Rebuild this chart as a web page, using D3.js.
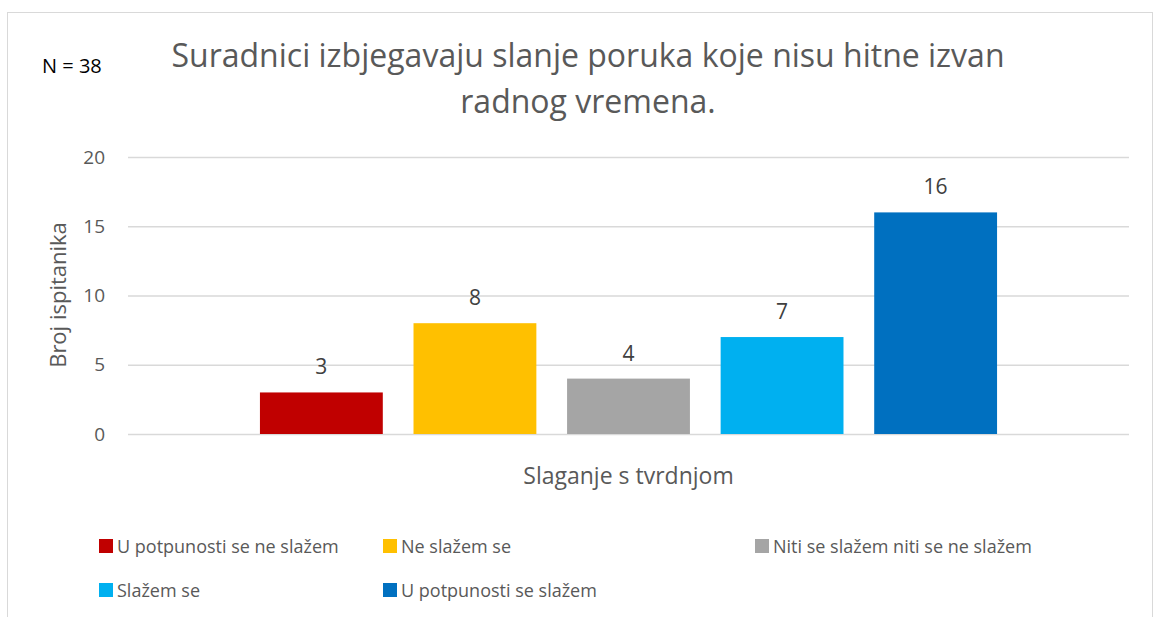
<!DOCTYPE html>
<html><head><meta charset="utf-8">
<script src="https://cdn.jsdelivr.net/npm/d3@7"></script>
<style>body{margin:0;background:#fff;} text{font-family:"Open Sans",sans-serif;}</style>
</head><body>
<svg id="c" width="1154" height="617"></svg>
<script>
const categories = ["Slaganje s tvrdnjom"];
const series = ["U potpunosti se ne slažem","Ne slažem se","Niti se slažem niti se ne slažem","Slažem se","U potpunosti se slažem"];
const values = [3, 8, 4, 7, 16];
const colors = ["#C00000","#FFC000","#A5A5A5","#00B0F0","#0070C0"];
const yTicks = [0, 5, 10, 15, 20];
const titleLines = ["Suradnici izbjegavaju slanje poruka koje nisu hitne izvan","radnog vremena."];

const svg = d3.select("#c");
svg.append("rect").attr("x",7.5).attr("y",12.5).attr("width",1145).attr("height",620)
  .attr("fill","#fff").attr("stroke","#d9d9d9");

const L=128,R=1129,T=157,B=434;
const y = d3.scaleLinear().domain([0,20]).range([B,T]);
const x0 = d3.scaleBand().domain(categories).range([L,R]).paddingInner(0).paddingOuter(0.179);
const x1 = d3.scaleBand().domain(series).range([0,x0.bandwidth()]).paddingInner(0.2).paddingOuter(0);

// gridlines
svg.append("g").selectAll("line").data(yTicks).join("line")
  .attr("x1",L).attr("x2",R).attr("y1",d=>y(d)+0.5).attr("y2",d=>y(d)+0.5)
  .attr("stroke","#d9d9d9").attr("stroke-width",1.3);

const yAxis = svg.append("g").attr("transform",`translate(${L},0)`)
  .call(d3.axisLeft(y).tickValues(yTicks).tickSize(0).tickPadding(23));
yAxis.select(".domain").remove();
yAxis.selectAll("text").attr("fill","#595959").attr("font-size",19).attr("font-family","'Open Sans',sans-serif");

// bars
const g = svg.append("g").attr("transform",`translate(${x0(categories[0])},0)`);
g.selectAll("rect").data(values).join("rect")
  .attr("x",(d,i)=>x1(series[i])).attr("width",x1.bandwidth())
  .attr("y",d=>y(d)).attr("height",d=>B-y(d)).attr("fill",(d,i)=>colors[i]);
g.selectAll("text").data(values).join("text")
  .attr("x",(d,i)=>x1(series[i])+x1.bandwidth()/2).attr("y",d=>y(d)-18)
  .attr("text-anchor","middle").attr("fill","#404040").attr("font-size",21).text(d=>d);

// titles
svg.append("g").selectAll("text").data(titleLines).join("text")
  .attr("x",588).attr("y",(d,i)=>67+i*46).attr("text-anchor","middle")
  .attr("fill","#595959").attr("font-size",32).text(d=>d);
svg.append("text").attr("x",42).attr("y",73).attr("fill","#000").attr("font-size",20).text("N = 38");
svg.append("text").attr("transform","translate(66,295) rotate(-90)").attr("text-anchor","middle")
  .attr("fill","#595959").attr("font-size",22).text("Broj ispitanika");
svg.append("text").attr("x",(L+R)/2).attr("y",484).attr("text-anchor","middle")
  .attr("fill","#595959").attr("font-size",23).text(categories[0]);

// legend
const legPos = [[99,546],[383,546],[755,546],[99,590],[383,590]];
const lg = svg.append("g").selectAll("g").data(series).join("g")
  .attr("transform",(d,i)=>`translate(${legPos[i][0]},${legPos[i][1]})`);
lg.append("rect").attr("x",0).attr("y",-7).attr("width",14).attr("height",14).attr("fill",(d,i)=>colors[i]);
lg.append("text").attr("x",18).attr("y",7).attr("fill","#595959").attr("font-size",18).text(d=>d);
</script>
</body></html>
